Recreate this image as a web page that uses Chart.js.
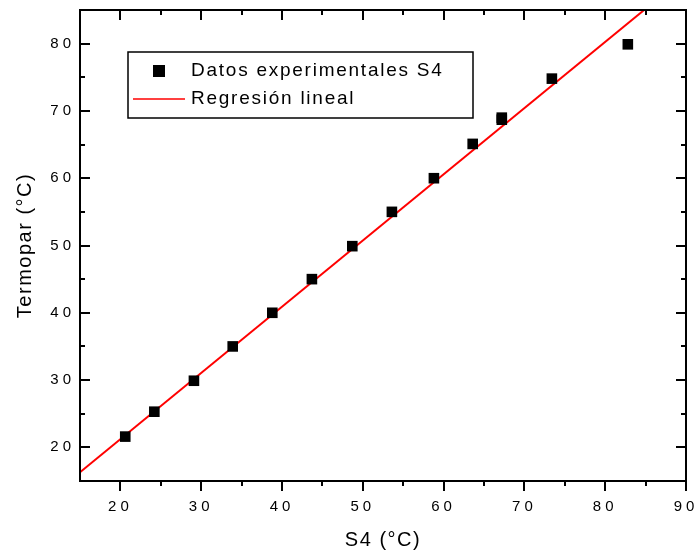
<!DOCTYPE html>
<html>
<head>
<meta charset="utf-8">
<script src="https://cdn.jsdelivr.net/npm/chart.js@4"></script>
<style>
  html, body { margin: 0; padding: 0; background: #fff; }
  #wrap { width: 697px; height: 554px; }
</style>
</head>
<body>
<div id="wrap"><canvas id="chart"></canvas></div>
<script>
// measured points (S4 vs thermocouple)
const s4Values = [20.6, 24.2, 29.1, 33.9, 38.8, 43.7, 48.7, 53.6, 58.8, 63.6, 67.2, 67.2, 73.4, 82.8];
const termoparValues = [21.6, 25.3, 29.9, 35.0, 40.0, 45.0, 49.9, 55.0, 60.0, 65.1, 68.7, 69.0, 74.8, 79.9];

// fitted line, read at the edges of the plot
const regX = [15, 90];
const regY = [16.3, 90.1];

const xTicks = [20, 30, 40, 50, 60, 70, 80, 90];
const xMinor = [25, 35, 45, 55, 65, 75, 85];
const yTicks = [20, 30, 40, 50, 60, 70, 80];
const yMinor = [25, 35, 45, 55, 65, 75];

const labelPoints = 'Datos experimentales S4';
const labelLine = 'Regresión lineal';

const FONT = "'Liberation Sans', Arial, sans-serif";

// letter spacing for tick labels / axis titles
const spacingPlugin = {
    id: 'spacing',
    beforeDraw(chart) {
        Object.values(chart.scales).forEach(sc => {
            if (sc._spaced) return;
            sc._spaced = true;
            const lab = sc.drawLabels, tit = sc.drawTitle;
            sc.drawLabels = function (a) {
                this.ctx.letterSpacing = '4px';
                lab.call(this, a);
                this.ctx.letterSpacing = '0px';
            };
            sc.drawTitle = function () {
                this.ctx.letterSpacing = '1.5px';
                tit.call(this);
                this.ctx.letterSpacing = '0px';
            };
        });
    }
};

// frame + ticks like the original plot
const framePlugin = {
    id: 'frame',
    afterDraw(chart) {
        const { ctx, chartArea: a, scales: { x, y } } = chart;
        ctx.save();
        ctx.strokeStyle = '#000';
        ctx.lineWidth = 2;
        ctx.strokeRect(a.left, a.top, a.right - a.left, a.bottom - a.top);
        ctx.beginPath();
        const xt = (v, len) => {
            const p = Math.round(x.getPixelForValue(v));
            ctx.moveTo(p, a.bottom); ctx.lineTo(p, a.bottom + len);
            ctx.moveTo(p, a.top); ctx.lineTo(p, a.top + len);
        };
        const yt = (v, len) => {
            const p = Math.round(y.getPixelForValue(v));
            ctx.moveTo(a.left, p); ctx.lineTo(a.left + len, p);
            ctx.moveTo(a.right, p); ctx.lineTo(a.right - len, p);
        };
        xTicks.forEach(v => xt(v, 10));
        xMinor.forEach(v => xt(v, 5));
        yTicks.forEach(v => yt(v, 10));
        yMinor.forEach(v => yt(v, 5));
        ctx.stroke();

        // legend box
        const bx = a.left + 48, by = a.top + 42, bw = 345, bh = 66;
        ctx.lineWidth = 1.5;
        ctx.strokeRect(bx, by, bw, bh);
        const r1 = by + 19, r2 = by + 47;
        ctx.fillStyle = '#000';
        ctx.fillRect(bx + 25, r1 - 6, 12, 12);
        ctx.strokeStyle = '#ff0000';
        ctx.beginPath();
        ctx.moveTo(bx + 5, r2); ctx.lineTo(bx + 57, r2);
        ctx.stroke();
        ctx.font = '19px ' + FONT;
        ctx.letterSpacing = '1.75px';
        ctx.textBaseline = 'middle';
        ctx.textAlign = 'left';
        ctx.fillText(chart.data.datasets[0].label, bx + 63, r1);
        ctx.fillText(chart.data.datasets[1].label, bx + 63, r2);
        ctx.restore();
    }
};

const noPad = s => {
    s.paddingLeft = 0; s.paddingRight = 0;
    s.paddingTop = 0; s.paddingBottom = 0;
};

const ctx = document.getElementById('chart').getContext('2d');
new Chart(ctx, {
    type: 'scatter',
    data: {
        datasets: [
            {
                label: labelPoints,
                data: s4Values.map((v, i) => ({ x: v, y: termoparValues[i] })),
                pointStyle: 'rect',
                pointRadius: 7.5,
                backgroundColor: '#000',
                borderColor: '#000',
                borderWidth: 0,
                order: 1,
            },
            {
                label: labelLine,
                type: 'line',
                data: regX.map((v, i) => ({ x: v, y: regY[i] })),
                borderColor: '#ff0000',
                borderWidth: 2,
                pointRadius: 0,
                fill: false,
                clip: 0,
                order: 2,
            }
        ]
    },
    options: {
        responsive: true,
        maintainAspectRatio: false,
        animation: false,
        layout: { padding: { top: 10, right: 11, left: 0, bottom: 0 } },
        plugins: {
            legend: { display: false },
            tooltip: { enabled: false },
        },
        scales: {
            x: {
                type: 'linear',
                min: 15,
                max: 90,
                afterBuildTicks: s => { s.ticks = xTicks.map(v => ({ value: v })); },
                afterFit: s => { s.height = 73; noPad(s); },
                grid: { display: false, drawTicks: false },
                border: { display: false },
                ticks: { color: '#000', padding: 17, maxRotation: 0, font: { family: FONT, size: 15 } },
                title: {
                    display: true,
                    text: 'S4 (°C)',
                    color: '#000',
                    font: { family: FONT, size: 20 },
                    padding: { top: 0, bottom: 2 },
                }
            },
            y: {
                type: 'linear',
                min: 15,
                max: 85,
                afterBuildTicks: s => { s.ticks = yTicks.map(v => ({ value: v })); },
                afterFit: s => { s.width = 80; noPad(s); },
                grid: { display: false, drawTicks: false },
                border: { display: false },
                ticks: { color: '#000', padding: 5, font: { family: FONT, size: 15 } },
                title: {
                    display: true,
                    text: 'Termopar (°C)',
                    color: '#000',
                    font: { family: FONT, size: 20 },
                    padding: { top: 13, bottom: 0 },
                }
            }
        }
    },
    plugins: [spacingPlugin, framePlugin]
});
</script>
</body>
</html>
